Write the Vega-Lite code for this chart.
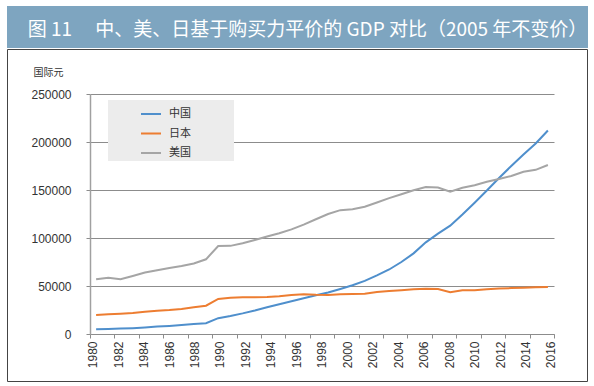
{
  "$schema": "https://vega.github.io/schema/vega-lite/v6.json",
  "background": "white",
  "padding": {"left": 6, "top": 6, "right": 0, "bottom": 0},
  "spacing": 0,
  "config": {"font": "Liberation Sans"},
  "datasets": {
    "gdp": [
      {"year": 1980, "中国": 4900, "日本": 19800, "美国": 57000},
      {"year": 1981, "中国": 5200, "日本": 20500, "美国": 58700},
      {"year": 1982, "中国": 5600, "日本": 21200, "美国": 57000},
      {"year": 1983, "中国": 6100, "日本": 22000, "美国": 60400},
      {"year": 1984, "中国": 6800, "日本": 23100, "美国": 64000},
      {"year": 1985, "中国": 7700, "日本": 24300, "美国": 66500},
      {"year": 1986, "中国": 8400, "日本": 25000, "美国": 68700},
      {"year": 1987, "中国": 9300, "日本": 26000, "美国": 70800},
      {"year": 1988, "中国": 10400, "日本": 27800, "美国": 73500},
      {"year": 1989, "中国": 11200, "日本": 29500, "美国": 77800},
      {"year": 1990, "中国": 16500, "日本": 36500, "美国": 91700},
      {"year": 1991, "中国": 18800, "日本": 37800, "美国": 91800},
      {"year": 1992, "中国": 21500, "日本": 38200, "美国": 94500},
      {"year": 1993, "中国": 24500, "日本": 38300, "美国": 98000},
      {"year": 1994, "中国": 27800, "日本": 38600, "美国": 101500},
      {"year": 1995, "中国": 31000, "日本": 39300, "美国": 105000},
      {"year": 1996, "中国": 34200, "日本": 40600, "美国": 109000},
      {"year": 1997, "中国": 37300, "日本": 41300, "美国": 114000},
      {"year": 1998, "中国": 40300, "日本": 40800, "美国": 119500},
      {"year": 1999, "中国": 43300, "日本": 40600, "美国": 125000},
      {"year": 2000, "中国": 46900, "日本": 41300, "美国": 129000},
      {"year": 2001, "中国": 50800, "日本": 41600, "美国": 130000},
      {"year": 2002, "中国": 55400, "日本": 42000, "美国": 132600},
      {"year": 2003, "中国": 61000, "日本": 43700, "美国": 137000},
      {"year": 2004, "中国": 67200, "日本": 44800, "美国": 141500},
      {"year": 2005, "中国": 75000, "日本": 45600, "美国": 145500},
      {"year": 2006, "中国": 84000, "日本": 46500, "美国": 149700},
      {"year": 2007, "中国": 95500, "日本": 47200, "美国": 153000},
      {"year": 2008, "中国": 104500, "日本": 46800, "美国": 152500},
      {"year": 2009, "中国": 112800, "日本": 43400, "美国": 148300},
      {"year": 2010, "中国": 124500, "日本": 45500, "美国": 152400},
      {"year": 2011, "中国": 136800, "日本": 45700, "美国": 155000},
      {"year": 2012, "中国": 149500, "日本": 46500, "美国": 158500},
      {"year": 2013, "中国": 162500, "日本": 47300, "美国": 161500},
      {"year": 2014, "中国": 175000, "日本": 47800, "美国": 164600},
      {"year": 2015, "中国": 187000, "日本": 48300, "美国": 169000},
      {"year": 2016, "中国": 198500, "日本": 48600, "美国": 171000},
      {"year": 2017, "中国": 212000, "日本": 49000, "美国": 176000}
    ]
  },
  "vconcat": [
    {
      "width": 581,
      "height": 42,
      "view": {"fill": "#7ea5c0", "stroke": null},
      "data": {"values": [{"t": "图 11　 中、美、日基于购买力平价的 GDP 对比（2005 年不变价）"}]},
      "mark": {"type": "text", "font": "Noto Sans CJK SC", "fontSize": 19, "color": "white", "dx": 10, "dy": 3},
      "encoding": {"text": {"field": "t"}}
    },
    {
      "width": 580,
      "height": 332,
      "view": {"stroke": "#444444", "strokeWidth": 1, "fill": "white"},
      "data": {"name": "gdp"},
      "transform": [{"fold": ["中国", "日本", "美国"], "as": ["country", "value"]}],
      "encoding": {
        "y": {
          "field": "value",
          "type": "quantitative",
          "scale": {"domain": [0, 250000], "range": [285, 45], "nice": false, "zero": true},
          "axis": {
            "title": "国际元",
            "titleAngle": 0,
            "titleAlign": "left",
            "titleBaseline": "middle",
            "titleX": -57,
            "titleY": 23,
            "titleFont": "Noto Sans CJK SC",
            "titleFontSize": 10,
            "titleFontWeight": "normal",
            "titleColor": "#333333",
            "values": [0, 50000, 100000, 150000, 200000, 250000],
            "format": "d",
            "offset": -83,
            "ticks": true,
            "tickSize": 4,
            "tickColor": "#8c8c8c",
            "domain": true,
            "domainColor": "#a0a0a0",
            "domainWidth": 1.5,
            "grid": true,
            "gridColor": "#8c8c8c",
            "gridOpacity": 1,
            "labelPadding": 15,
            "labelFontSize": 12,
            "labelColor": "#333333"
          }
        },
        "color": {
          "field": "country",
          "type": "nominal",
          "scale": {"domain": ["中国", "日本", "美国"], "range": ["#4f8fcc", "#ed7d31", "#a5a5a5"]},
          "legend": {
            "orient": "none",
            "legendX": 101,
            "legendY": 94,
            "title": "⠀",
            "titleOrient": "left",
            "titleFontSize": 10,
            "titlePadding": 22,
            "fillColor": "#ececec",
            "padding": 3,
            "symbolType": "stroke",
            "symbolSize": 400,
            "symbolStrokeWidth": 2,
            "labelFontSize": 11,
            "labelFont": "Noto Sans CJK SC",
            "labelColor": "#333333",
            "labelOffset": 7,
            "rowPadding": 3.5,
            "labelExpr": "datum.label + '⠀⠀⠀⠀⠀'"
          }
        }
      },
      "layer": [
        {
          "transform": [{"filter": "datum.country == '中国'"}],
          "mark": {"type": "line", "strokeWidth": 2},
          "encoding": {
            "x": {
              "field": "year",
              "type": "quantitative",
              "scale": {"domain": [1979.5, 2017.5], "range": [83, 547], "nice": false, "zero": false},
              "axis": {
                "orient": "bottom",
                "values": [1979.5, 1981.5, 1983.5, 1985.5, 1987.5, 1989.5, 1991.5, 1993.5, 1995.5, 1997.5, 1999.5, 2001.5, 2003.5, 2005.5, 2007.5, 2009.5, 2011.5, 2013.5, 2015.5, 2017.5],
                "labels": false,
                "ticks": true,
                "tickSize": 4,
                "tickColor": "#8c8c8c",
                "tickWidth": 1,
                "domain": true,
                "domainColor": "#8c8c8c",
                "grid": false,
                "title": null,
                "offset": -47
              }
            }
          }
        },
        {
          "transform": [{"filter": "datum.country != '中国'"}],
          "mark": {"type": "line", "strokeWidth": 2},
          "encoding": {
            "x": {
              "field": "year",
              "type": "quantitative",
              "axis": {
                "orient": "bottom",
                "values": [1979.72, 1981.805, 1983.89, 1985.975, 1988.06, 1990.145, 1992.23, 1994.315, 1996.4, 1998.485, 2000.57, 2002.655, 2004.74, 2006.825, 2008.91, 2010.995, 2013.08, 2015.165, 2017.25],
                "labelExpr": "'' + (1980 + 2 * round((datum.value - 1979.72) / 2.085))",
                "ticks": false,
                "tickSize": 0,
                "domain": false,
                "grid": false,
                "title": null,
                "labelAngle": -90,
                "labelPadding": 7,
                "labelFontSize": 12,
                "labelColor": "#333333",
                "labelFlush": false,
                "labelOverlap": false,
                "labelBound": false,
                "offset": -47
              }
            }
          }
        }
      ],
      "resolve": {"axis": {"x": "independent"}}
    }
  ]
}
